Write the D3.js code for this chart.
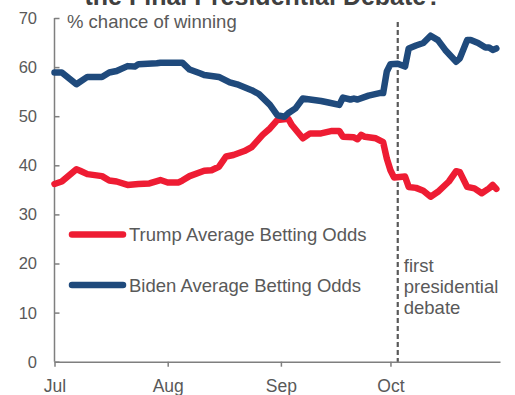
<!DOCTYPE html>
<html>
<head>
<meta charset="utf-8">
<script src="https://cdn.jsdelivr.net/npm/d3@7"></script>
<style>
  body { margin: 0; background: #fff; }
  svg { display: block; font-family: "Liberation Sans", Arial, sans-serif; }
</style>
</head>
<body>
<svg id="chart" width="515" height="395"></svg>
<script>
// values, % chance of winning
var trumpDates = ['2020-07-01','2020-07-03','2020-07-07','2020-07-08','2020-07-10','2020-07-14','2020-07-16','2020-07-18',
  '2020-07-21','2020-07-24','2020-07-27','2020-07-30','2020-08-01','2020-08-04','2020-08-05','2020-08-07','2020-08-11',
  '2020-08-13','2020-08-15','2020-08-17','2020-08-19','2020-08-22','2020-08-24','2020-08-27','2020-08-29','2020-08-31',
  '2020-09-03','2020-09-04','2020-09-07','2020-09-09','2020-09-12','2020-09-15','2020-09-17','2020-09-18','2020-09-21',
  '2020-09-22','2020-09-23','2020-09-24','2020-09-27','2020-09-29','2020-09-30','2020-10-01','2020-10-02','2020-10-05',
  '2020-10-06','2020-10-08','2020-10-10','2020-10-12','2020-10-14','2020-10-17','2020-10-19','2020-10-20','2020-10-22',
  '2020-10-24','2020-10-26','2020-10-28','2020-10-29','2020-10-30'];
var trumpOdds = [36.2,36.7,39.2,38.9,38.2,37.8,36.9,36.7,
  36.0,36.2,36.3,37.0,36.5,36.5,36.9,37.8,38.9,
  39.0,39.7,41.8,42.1,42.9,43.7,46.2,47.5,49.2,
  49.5,48.2,45.5,46.5,46.5,47.0,47.0,45.8,45.7,
  45.3,46.2,45.8,45.5,44.7,41.4,39.0,37.5,37.7,
  35.6,35.4,34.8,33.6,34.6,36.7,38.8,38.6,35.6,
  35.3,34.3,35.3,36.0,35.2];

var bidenDates = ['2020-07-01','2020-07-03','2020-07-07','2020-07-10','2020-07-14','2020-07-16','2020-07-18','2020-07-21',
  '2020-07-23','2020-07-24','2020-07-29','2020-07-30','2020-08-05','2020-08-07','2020-08-10','2020-08-11','2020-08-15',
  '2020-08-18','2020-08-20','2020-08-24','2020-08-26','2020-08-29','2020-08-31','2020-09-02','2020-09-03','2020-09-05',
  '2020-09-07','2020-09-10','2020-09-12','2020-09-14','2020-09-17','2020-09-18','2020-09-20','2020-09-21','2020-09-22',
  '2020-09-25','2020-09-28','2020-09-29','2020-09-30','2020-10-01','2020-10-03','2020-10-05','2020-10-06','2020-10-08',
  '2020-10-10','2020-10-12','2020-10-14','2020-10-16','2020-10-19','2020-10-20','2020-10-22','2020-10-23','2020-10-25',
  '2020-10-27','2020-10-28','2020-10-29','2020-10-30'];
var bidenOdds = [58.9,58.9,56.5,58.0,58.0,58.9,59.2,60.2,
  60.1,60.6,60.8,60.9,60.9,59.5,58.7,58.4,58.0,
  56.9,56.5,55.3,54.5,52.3,50.2,49.9,50.6,51.6,
  53.6,53.3,53.1,52.8,52.3,53.8,53.4,53.6,53.4,
  54.2,54.7,54.7,59.1,60.6,60.7,60.1,63.8,64.4,
  64.9,66.4,65.5,63.5,61.1,61.8,65.5,65.5,64.9,
  64.0,64.0,63.5,63.8];

var seriesNames = ['Trump Average Betting Odds', 'Biden Average Betting Odds'];
var seriesColors = ['#ee1c33', '#1f4a7c'];
var yTicks = [0, 10, 20, 30, 40, 50, 60, 70];
var monthTicks = ['2020-07-01', '2020-08-01', '2020-09-01', '2020-10-01'];
var debateDate = '2020-10-03';
var debateLabel = ['first', 'presidential', 'debate'];

var parseDate = d3.timeParse('%Y-%m-%d');
var svg = d3.select('#chart');
var textColor = '#595959';
var axisColor = '#7f7f7f';

var x = d3.scaleTime()
    .domain([parseDate('2020-07-01'), parseDate('2020-10-31')])
    .range([54.5, 500]);
var y = d3.scaleLinear()
    .domain([0, 70])
    .range([361.7, 18]);

// title, its second line only peeks in at the top edge
svg.append('text')
    .attr('x', 263)
    .attr('y', 5)
    .attr('text-anchor', 'middle')
    .style('font-size', '25px')
    .style('font-weight', 'bold')
    .style('fill', '#404040')
    .text('the Final Presidential Debate?');

// y axis, ticks point inward
var yAxis = svg.append('g')
    .attr('transform', 'translate(' + x.range()[0] + ',0)')
    .call(d3.axisRight(y).tickValues(yTicks).tickSize(5).tickFormat(''));
yAxis.select('.domain').attr('d', 'M0,' + y(70) + 'V' + y(0));
yAxis.selectAll('line, path').attr('stroke', axisColor).attr('stroke-width', 1.5);

svg.append('g').selectAll('text')
    .data(yTicks)
    .enter().append('text')
    .attr('x', 37)
    .attr('y', function (d) { return y(d); })
    .attr('dy', '0.36em')
    .attr('text-anchor', 'end')
    .style('font-size', '16.5px')
    .style('fill', textColor)
    .text(function (d) { return d; });

// x axis
var xAxis = svg.append('g')
    .attr('transform', 'translate(0,' + y(0) + ')')
    .call(d3.axisBottom(x)
        .tickValues(monthTicks.map(parseDate))
        .tickSize(5)
        .tickSizeOuter(0)
        .tickFormat(d3.timeFormat('%b')));
xAxis.selectAll('line, path').attr('stroke', axisColor).attr('stroke-width', 1.5);
xAxis.selectAll('text')
    .attr('y', 0)
    .attr('dy', 0)
    .attr('transform', 'translate(0,30)')
    .style('font-size', '17.5px')
    .style('font-family', '"Liberation Sans", Arial, sans-serif')
    .style('fill', textColor);

// y label
svg.append('text')
    .attr('x', 67)
    .attr('y', 28)
    .style('font-size', '18.5px')
    .style('fill', textColor)
    .text('% chance of winning');

// debate marker
var dx = x(parseDate(debateDate));
svg.append('line')
    .attr('x1', dx).attr('x2', dx)
    .attr('y1', 22).attr('y2', y(0))
    .attr('stroke', '#595959')
    .attr('stroke-width', 2.2)
    .attr('stroke-dasharray', '5,3');
svg.append('g').selectAll('text')
    .data(debateLabel)
    .enter().append('text')
    .attr('x', dx + 6)
    .attr('y', function (d, i) { return 272 + i * 21; })
    .style('font-size', '18.5px')
    .style('fill', textColor)
    .text(function (d) { return d; });

// lines
var series = [
    { name: seriesNames[0], color: seriesColors[0],
      values: trumpDates.map(function (d, i) { return { date: parseDate(d), value: trumpOdds[i] }; }) },
    { name: seriesNames[1], color: seriesColors[1],
      values: bidenDates.map(function (d, i) { return { date: parseDate(d), value: bidenOdds[i] }; }) }
];
var drawLine = d3.line()
    .x(function (d) { return x(d.date); })
    .y(function (d) { return y(d.value); });

svg.append('g').selectAll('path')
    .data(series)
    .enter().append('path')
    .attr('d', function (d) { return drawLine(d.values); })
    .attr('fill', 'none')
    .attr('stroke', function (d) { return d.color; })
    .attr('stroke-width', 6.5)
    .attr('stroke-linejoin', 'round')
    .attr('stroke-linecap', 'round');

// legend
var legend = svg.append('g').selectAll('g')
    .data(series)
    .enter().append('g')
    .attr('transform', function (d, i) { return 'translate(0,' + (234.5 + i * 50.5) + ')'; });
legend.append('line')
    .attr('x1', 72).attr('x2', 123)
    .attr('stroke', function (d) { return d.color; })
    .attr('stroke-width', 6.5)
    .attr('stroke-linecap', 'round');
legend.append('text')
    .attr('x', 129)
    .attr('y', 0)
    .attr('dy', '0.36em')
    .style('font-size', '18.5px')
    .style('fill', textColor)
    .text(function (d) { return d.name; });
</script>
</body>
</html>
